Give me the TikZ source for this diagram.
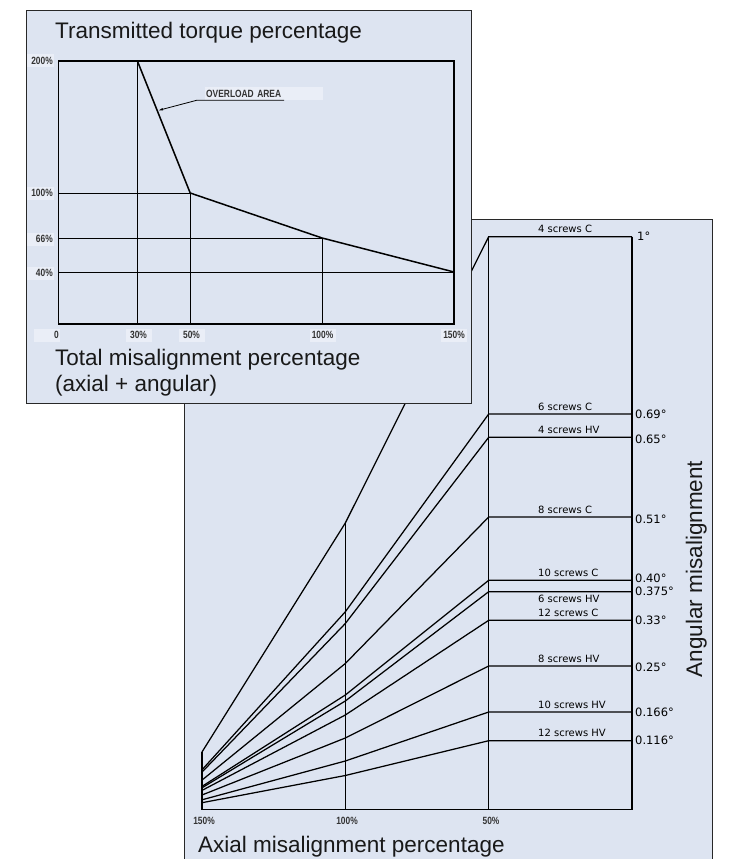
\documentclass[tikz,border=0pt]{standalone}
\usepackage{fontspec}
\setmainfont{Liberation Sans}
\newfontfamily\condfont[FakeStretch=0.8,UprightFont={* Bold}]{Liberation Sans}
\newfontfamily\isofont{DejaVu Sans}
\usetikzlibrary{arrows.meta}
\definecolor{panelblue}{RGB}{221,228,241}
\definecolor{tagblue}{RGB}{234,238,247}
\definecolor{inkgray}{RGB}{40,40,40}
\tikzset{
    % panels and frames
    panel/.style={draw=inkgray, fill=panelblue, line width=1pt},
    plotframe/.style={draw=black, line width=1.5pt},
    gridline/.style={draw=black, line width=0.8pt},
    % curves
    torqueline/.style={draw=black, line width=1.5pt},
    screwline/.style={draw=black, line width=1.25pt},
    leader/.style={draw=black, line width=0.8pt},
    % texts
    bigtitle/.style={font=\fontsize{22.5}{27}\selectfont, text=black!90, inner sep=0pt},
    tick/.style={font=\condfont\fontsize{10.5}{12}\selectfont, text=black!80,
                 fill=tagblue, inner sep=0pt, minimum height=13pt},
    axtick/.style={font=\condfont\fontsize{10.5}{12}\selectfont, text=black!80, inner sep=0pt},
    screwlabel/.style={font=\isofont\fontsize{10}{12}\selectfont, inner sep=0pt},
    anglelabel/.style={font=\isofont\fontsize{11.5}{13}\selectfont, inner sep=0pt, anchor=west},
}

\begin{document}
\begin{tikzpicture}[x=1pt,y=-1pt]
  \useasboundingbox (0,0) rectangle (731,859);

  % lower panel: axial vs angular misalignment
  \draw[panel] (184,219) rectangle (712.7,875);
  \draw[plotframe] (202,752) -- (202,809.3) -- (632,809.3) -- (632,236.7);
  \draw[gridline] (345.3,523) -- (345.3,809.3);
  \draw[gridline] (488.7,236.7) -- (488.7,809.3);

  \draw[screwline] (202,752)   -- (345.3,523)   -- (488.7,236.7) -- (632,236.7);
  \draw[screwline] (202,769.8) -- (345.3,611.8) -- (488.7,414)   -- (632,414);
  \draw[screwline] (202,772.1) -- (345.3,623.5) -- (488.7,437.3) -- (632,437.3);
  \draw[screwline] (202,780.1) -- (345.3,663.5) -- (488.7,517)   -- (632,517);
  \draw[screwline] (202,786.4) -- (345.3,695)   -- (488.7,580.3) -- (632,580.3);
  \draw[screwline] (202,787.8) -- (345.3,701)   -- (488.7,591.7) -- (632,591.7);
  \draw[screwline] (202,790.4) -- (345.3,715)   -- (488.7,620.3) -- (632,620.3);
  \draw[screwline] (202,795)   -- (345.3,738)   -- (488.7,666)   -- (632,666);
  \draw[screwline] (202,799.8) -- (345.3,761)   -- (488.7,712)   -- (632,712);
  \draw[screwline] (202,802.7) -- (345.3,775.5) -- (488.7,740.7) -- (632,740.7);

  % screw labels
  \node[screwlabel, anchor=south west] (sc4c)   at (538,233.2) {4 screws C};
  \node[screwlabel, anchor=south west] (sc6c)   at (538,410.5) {6 screws C};
  \node[screwlabel, anchor=south west] (sc4hv)  at (538,433.8) {4 screws HV};
  \node[screwlabel, anchor=south west] (sc8c)   at (538,513.5) {8 screws C};
  \node[screwlabel, anchor=south west] (sc10c)  at (538,576.8) {10 screws C};
  \node[screwlabel, anchor=north west] (sc6hv)  at (538,595)   {6 screws HV};
  \node[screwlabel, anchor=south west] (sc12c)  at (538,616.8) {12 screws C};
  \node[screwlabel, anchor=south west] (sc8hv)  at (538,662.5) {8 screws HV};
  \node[screwlabel, anchor=south west] (sc10hv) at (538,708.5) {10 screws HV};
  \node[screwlabel, anchor=south west] (sc12hv) at (538,737.2) {12 screws HV};

  % angle values
  \node[anglelabel] (ang1)   at (637,236)   {1°};
  \node[anglelabel] (ang069) at (635,414)   {0.69°};
  \node[anglelabel] (ang065) at (635,439)   {0.65°};
  \node[anglelabel] (ang051) at (635,519)   {0.51°};
  \node[anglelabel] (ang040) at (635,578.5) {0.40°};
  \node[anglelabel] (ang0375) at (635,591.5) {0.375°};
  \node[anglelabel] (ang033) at (635,620)   {0.33°};
  \node[anglelabel] (ang025) at (635,667)   {0.25°};
  \node[anglelabel] (ang0166) at (635,712)  {0.166°};
  \node[anglelabel] (ang0116) at (635,740.5) {0.116°};

  % axial ticks and axis titles
  \node[axtick] (ax150) at (204,821) {150\%};
  \node[axtick] (ax100) at (347,821) {100\%};
  \node[axtick] (ax50)  at (491,821) {50\%};
  \node[bigtitle, anchor=base west] (axialtitle) at (198,852) {Axial misalignment percentage};
  \node[bigtitle, anchor=base, rotate=90] (angulartitle) at (702,569) {Angular misalignment};

  % upper panel: transmitted torque
  \draw[panel] (26,10.7) rectangle (471,403.3);
  \node[bigtitle, anchor=base west] (torquetitle) at (55,39) {Transmitted torque percentage};

  \draw[gridline] (137.4,324) -- (137.4,61);
  \draw[gridline] (190.2,324) -- (190.2,193);
  \draw[gridline] (322.1,324) -- (322.1,238);
  \draw[gridline] (58.3,193) -- (190.2,193);
  \draw[gridline] (58.3,238) -- (322.1,238);
  \draw[gridline] (58.3,272) -- (454,272);
  \draw[plotframe] (58.3,61) rectangle (454,324);
  \draw[torqueline] (137.4,61) -- (190.2,193) -- (322.1,238) -- (454,272);

  % overload callout
  \node[tick, anchor=west, text width=116pt, inner xsep=1pt] (overload) at (205,93.5) {OVERLOAD AREA};
  \coordinate (overloadtip) at (158,110.5);
  \draw[leader, -{Latex[length=5pt,width=2.6pt]}]
       ([xshift=79pt]overload.south west) -- ([xshift=-8pt]overload.south west) -- (overloadtip);

  % torque ticks
  \node[tick, anchor=east, text width=25pt, align=right, inner xsep=1pt] (tq200) at (54,61)  {200\%};
  \node[tick, anchor=east, text width=25pt, align=right, inner xsep=1pt] (tq100) at (54,193) {100\%};
  \node[tick, anchor=east, text width=25pt, align=right, inner xsep=1pt] (tq66)  at (54,239) {66\%};
  \node[tick, anchor=east, text width=25pt, align=right, inner xsep=1pt] (tq40)  at (54,273) {40\%};

  % misalignment ticks
  \node[tick, anchor=east, text width=24pt, align=right, inner xsep=1pt] (ms0) at (60,335) {0};
  \node[tick, minimum width=26pt] (ms30)  at (138.5,335) {30\%};
  \node[tick, minimum width=26pt] (ms50)  at (191.5,335) {50\%};
  \node[tick, minimum width=26pt] (ms100) at (322.5,335) {100\%};
  \node[tick, minimum width=26pt] (ms150) at (454,335)   {150\%};

  \node[bigtitle, anchor=base west] (totaltitle) at (55,365) {Total misalignment percentage};
  \node[bigtitle, anchor=base west] (totalsub)   at (55,391) {(axial + angular)};
\end{tikzpicture}
\end{document}
